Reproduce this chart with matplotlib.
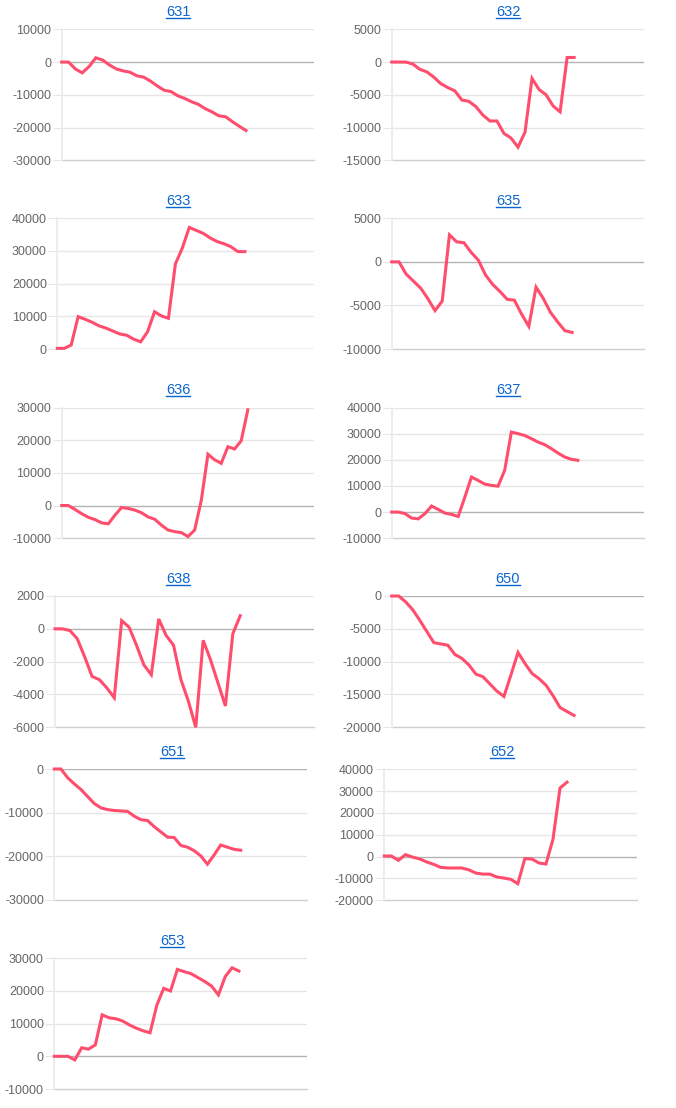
import matplotlib
matplotlib.use("Agg")
import matplotlib.pyplot as plt
from matplotlib.lines import Line2D
import numpy as np

plt.rcParams['font.family'] = ['Liberation Sans', 'DejaVu Sans']

# ---- data ----
titles = ["631", "632", "633", "635", "636", "637", "638", "650", "651", "652", "653"]

s631 = [0, 0, -2100, -3300, -1400, 1300, 600, -900, -2100, -2700, -3100, -4200, -4600, -5800,
        -7300, -8600, -9000, -10300, -11100, -12100, -12900, -14200, -15200, -16400, -16700,
        -18200, -19600, -20900]
s632 = [0, 0, 0, -300, -1100, -1500, -2300, -3300, -3900, -4400, -5800, -6000, -6800, -8100,
        -9000, -9000, -10900, -11600, -13000, -10700, -2500, -4200, -5000, -6700, -7600, 700, 700]
s633 = [200, 200, 1200, 9900, 9100, 8200, 7100, 6400, 5500, 4600, 4200, 3000, 2200, 5300, 11400,
        10100, 9400, 26000, 30900, 37200, 36300, 35400, 34000, 32900, 32200, 31300, 29800, 29800]
s635 = [0, 0, -1400, -2200, -3000, -4200, -5600, -4500, 3100, 2300, 2200, 1100, 200, -1500,
        -2600, -3400, -4300, -4400, -6000, -7400, -2900, -4200, -5800, -6900, -7900, -8100]
s636 = [0, 0, -1200, -2500, -3600, -4300, -5300, -5600, -3000, -600, -900, -1400, -2200, -3500,
        -4200, -6000, -7500, -8000, -8300, -9500, -7500, 1600, 15700, 14000, 12900, 18000, 17300,
        19800, 29300]
s637 = [0, 0, -600, -2300, -2600, -600, 2300, 1000, -400, -900, -1700, 5700, 13400, 12100, 10700,
        10200, 9900, 16000, 30600, 30000, 29300, 28100, 26800, 25800, 24300, 22600, 21100, 20200,
        19800]
s638 = [0, 0, -100, -600, -1700, -2900, -3100, -3600, -4200, 500, 100, -1000, -2200, -2800, 600,
        -400, -1000, -3100, -4400, -6000, -700, -1900, -3300, -4700, -300, 800]
s650 = [0, 0, -900, -2100, -3700, -5400, -7100, -7300, -7500, -8900, -9500, -10500, -11900,
        -12300, -13400, -14500, -15300, -12000, -8600, -10300, -11800, -12600, -13600, -15200,
        -17000, -17600, -18200]
s651 = [0, 0, -2000, -3400, -4700, -6300, -7900, -8900, -9300, -9500, -9600, -9700, -10800,
        -11600, -11800, -13200, -14400, -15600, -15700, -17500, -17900, -18700, -19900, -21800,
        -19700, -17400, -17900, -18400, -18600]
s652 = [300, 300, -1700, 900, -200, -1000, -2400, -3500, -4900, -5200, -5200, -5200, -6000, -7500,
        -8000, -8000, -9300, -9800, -10400, -12400, -900, -1100, -2900, -3400, 7900, 31400, 34100]
s653 = [0, 0, 0, -1100, 2600, 2200, 3500, 12700, 11800, 11500, 10800, 9600, 8600, 7800, 7200,
        15700, 20800, 20000, 26600, 25900, 25300, 24100, 22900, 21500, 18800, 24400, 27100, 26100]

series = [s631, s632, s633, s635, s636, s637, s638, s650, s651, s652, s653]

# y-axis tick values per chart
yticks = [
    [-30000, -20000, -10000, 0, 10000],
    [-15000, -10000, -5000, 0, 5000],
    [0, 10000, 20000, 30000, 40000],
    [-10000, -5000, 0, 5000],
    [-10000, 0, 10000, 20000, 30000],
    [-10000, 0, 10000, 20000, 30000, 40000],
    [-6000, -4000, -2000, 0, 2000],
    [-20000, -15000, -10000, -5000, 0],
    [-30000, -20000, -10000, 0],
    [-20000, -10000, 0, 10000, 20000, 30000, 40000],
    [-10000, 0, 10000, 20000, 30000],
]
extra_labels = 10  # empty category slots after the data on each x axis

# ---- layout (pixels) ----
W, H = 676, 1108
# (left, right, top, bottom, title_x, title_y)
boxes = [
    (61.7, 314.3, 29.3, 160.3, 178, 12),
    (391.7, 644.3, 29.3, 160.3, 508, 12),
    (57.3, 314.3, 218.3, 349.0, 178, 201),
    (391.7, 644.3, 218.3, 349.0, 508, 201),
    (61.7, 314.3, 407.5, 538.2, 178, 390),
    (391.7, 644.3, 407.5, 538.2, 508, 390),
    (55.0, 314.3, 596.0, 727.3, 178, 579),
    (391.7, 644.3, 596.0, 727.3, 508, 579),
    (54.3, 307.3, 769.0, 900.0, 172, 752),
    (384.3, 637.3, 769.3, 900.3, 502, 752),
    (54.3, 307.3, 958.3, 1089.0, 172, 941),
]

LINE = '#ff4d6d'
GRID = '#e6e6e6'
ZERO = '#b3b3b3'
AXIS = '#cfcfcf'
TICK = '#666666'
LINK = '#0b66d0'

fig = plt.figure(figsize=(W / 100, H / 100), dpi=100)
fig.patch.set_facecolor('white')

title_texts = []
for name, vals, ticks, (l, r, t, b, tx, ty) in zip(titles, series, yticks, boxes):
    ax = fig.add_axes([l / W, 1 - b / H, (r - l) / W, (b - t) / H])
    x = np.arange(len(vals))
    ax.set_xlim(0, len(vals) - 1 + extra_labels)
    ax.set_ylim(ticks[0], ticks[-1])
    ax.set_yticks(ticks)
    ax.set_yticklabels([str(v) for v in ticks])
    ax.set_xticks([])
    for v in ticks:
        if v == 0:
            ax.axhline(v, color=ZERO, lw=1.0, zorder=1)
        elif v == ticks[0]:
            ax.axhline(v, color=AXIS, lw=1.0, zorder=1, clip_on=False)
        else:
            ax.axhline(v, color=GRID, lw=1.0, zorder=1)
    ax.tick_params(axis='y', length=6.5, width=0.75, color=GRID, pad=1,
                   labelsize=9, labelcolor=TICK)
    for side in ['top', 'right', 'bottom']:
        ax.spines[side].set_visible(False)
    ax.spines['left'].set_color('#ececec')
    ax.spines['left'].set_linewidth(1.3)
    ax.plot(x, vals, color=LINE, lw=2.2, solid_joinstyle='miter', zorder=3, clip_on=False)
    ax.set_facecolor('none')
    txt = fig.text(tx / W, 1 - ty / H, name, ha='center', va='center', color=LINK, fontsize=10.5)
    title_texts.append(txt)

# underline the link-style titles
fig.canvas.draw()
renderer = fig.canvas.get_renderer()
for txt in title_texts:
    bb = txt.get_window_extent(renderer=renderer)
    yline = bb.y0 + 1.0
    fig.add_artist(Line2D([bb.x0 / W, bb.x1 / W], [yline / H, yline / H],
                          transform=fig.transFigure, color=LINK, lw=1.0))

fig.savefig('out.png', dpi=100, facecolor='white')
